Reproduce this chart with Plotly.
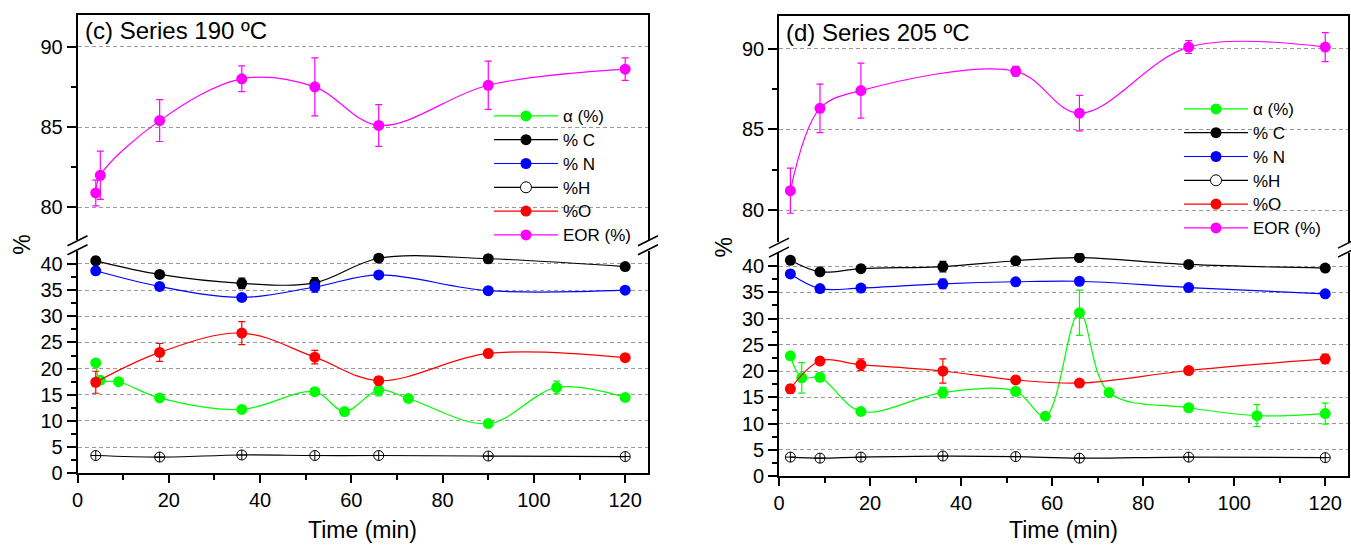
import plotly.graph_objects as go

W, H = 1351, 547
FONT = "Liberation Sans, Arial, sans-serif"

# ---------------- Data: Series 190 ºC ----------------
t190_eor = [4, 5, 18, 36, 52, 66, 90, 120]
eor190 = [80.9, 82.0, 85.4, 88.0, 87.5, 85.1, 87.6, 88.6]
eor190_err = [0.8, 1.5, 1.3, 0.8, 1.8, 1.3, 1.5, 0.7]

t190 = [4, 18, 36, 52, 66, 90, 120]
c190 = [40.6, 38.0, 36.3, 36.4, 41.1, 41.0, 39.5]
c190_err = [0.7, 0.4, 1.0, 1.0, 0.3, 0.3, 0.3]
n190 = [38.7, 35.7, 33.6, 35.6, 37.9, 34.9, 35.0]
n190_err = [0.6, 0.6, 0.5, 1.0, 0.3, 0.3, 0.3]
h190 = [3.4, 3.1, 3.5, 3.4, 3.4, 3.3, 3.2]
o190 = [17.4, 23.1, 26.8, 22.2, 17.7, 22.9, 22.1]
o190_err = [2.1, 1.7, 2.2, 1.3, 0.8, 0.8, 0.3]

t190_a = [4, 5, 9, 18, 36, 52, 58.5, 66, 72.5, 90, 105, 120]
a190 = [21.1, 17.8, 17.5, 14.4, 12.2, 15.6, 11.8, 15.9, 14.3, 9.5, 16.4, 14.5]
a190_err = [0, 0.3, 0, 0, 0, 0, 0, 1.1, 0.6, 0.6, 1.2, 0]

# ---------------- Data: Series 205 ºC ----------------
t205_eor = [2.5, 9, 18, 52, 66, 90, 120]
eor205 = [81.2, 86.3, 87.4, 88.6, 86.0, 90.1, 90.1]
eor205_err = [1.4, 1.5, 1.7, 0.3, 1.1, 0.4, 0.9]

t205 = [2.5, 9, 18, 36, 52, 66, 90, 120]
c205 = [41.1, 38.9, 39.5, 39.9, 41.0, 41.6, 40.3, 39.6]
c205_err = [0.3, 0.3, 0.3, 1.0, 0.3, 0.3, 0.3, 0.3]
n205 = [38.5, 35.7, 35.8, 36.6, 37.0, 37.1, 35.9, 34.7]
n205_err = [0.3, 0.3, 0.3, 0.9, 0.3, 0.3, 0.3, 0.3]
h205 = [3.6, 3.4, 3.6, 3.8, 3.7, 3.4, 3.6, 3.5]
o205 = [16.6, 21.9, 21.2, 20.0, 18.3, 17.7, 20.1, 22.3]
o205_err = [0.8, 0.5, 1.1, 2.3, 0.3, 0.3, 0.3, 0.9]

t205_a = [2.5, 5, 9, 18, 36, 52, 58.5, 66, 72.5, 90, 105, 120]
a205 = [22.9, 18.7, 18.8, 12.3, 15.9, 16.1, 11.4, 31.1, 15.9, 13.0, 11.5, 11.9]
a205_err = [0, 2.9, 0.8, 0, 1.0, 0.8, 0, 4.3, 0, 0, 2.1, 2.0]

series_names = ["α (%)", "% C", "% N", "%H", "%O", "EOR (%)"]
colors = ["#00FF00", "#000000", "#0000FF", "#000000", "#FF0000", "#FF00FF"]
panel_titles = ["(c) Series 190 ºC", "(d) Series 205 ºC"]
x_ticks = [0, 20, 40, 60, 80, 100, 120]
low_ticks = [0, 5, 10, 15, 20, 25, 30, 35, 40]
up_ticks = [80, 85, 90]


def px(x):
    return x / W


def py(y):
    return 1 - y / H


def legend_label(s):
    return "<span style='font-size:17px'>" + s + "</span>"


fig = go.Figure()

panels = [
    dict(t_a=t190_a, a=a190, a_err=a190_err, t=t190, c=c190, c_err=c190_err,
         n=n190, n_err=n190_err, h=h190, o=o190, o_err=o190_err,
         t_e=t190_eor, e=eor190, e_err=eor190_err),
    dict(t_a=t205_a, a=a205, a_err=a205_err, t=t205, c=c205, c_err=c205_err,
         n=n205, n_err=n205_err, h=h205, o=o205, o_err=o205_err,
         t_e=t205_eor, e=eor205, e_err=eor205_err),
]

ax_ids = [("x", "y", "x2", "y2"), ("x3", "y3", "x4", "y4")]
legends = ["legend", "legend2"]


def add_series(x, y, err, color, name, xa, ya, leg, symbol="circle", size=11,
               showlegend=True):
    mk = dict(symbol=symbol, size=size, color=color,
              line=dict(width=1 if symbol != "circle" else 0, color=color))
    fig.add_trace(go.Scatter(
        x=x, y=y, mode="lines+markers", name=legend_label(name),
        line=dict(color=color, width=1.2, shape="spline", smoothing=1.0),
        marker=mk,
        error_y=dict(type="data", array=err if err is not None else [0] * len(y),
                     color=color, thickness=1.2, width=3.5, visible=err is not None),
        xaxis=xa, yaxis=ya, legend=leg, showlegend=showlegend,
    ))


for i, p in enumerate(panels):
    xl, yl, xu, yu = ax_ids[i]
    leg = legends[i]
    add_series(p["t_a"], p["a"], p["a_err"], colors[0], series_names[0], xl, yl, leg)
    add_series(p["t"], p["c"], p["c_err"], colors[1], series_names[1], xl, yl, leg)
    add_series(p["t"], p["n"], p["n_err"], colors[2], series_names[2], xl, yl, leg)
    add_series(p["t"], p["h"], None, colors[3], series_names[3], xl, yl, leg,
               symbol="circle-cross-open", size=10, showlegend=False)
    # legend entry for %H (plain open circle, as in the original legend)
    fig.add_trace(go.Scatter(
        x=[None], y=[None], mode="lines+markers", name=legend_label(series_names[3]),
        line=dict(color="#000000", width=1.2),
        marker=dict(symbol="circle", size=11, color="white", line=dict(color="black", width=1)),
        xaxis=xl, yaxis=yl, legend=leg, showlegend=True))
    add_series(p["t"], p["o"], p["o_err"], colors[4], series_names[4], xl, yl, leg)
    add_series(p["t_e"], p["e"], p["e_err"], colors[5], series_names[5], xu, yu, leg)

geom = [
    dict(x0=77.5, x1=648.0, up=(14.5, 239.6), low=(250.9, 473.3), title_y=31),
    dict(x0=779.0, x1=1348.0, up=(16.4, 242.3), low=(252.9, 476.0), title_y=32),
]

axis_common = dict(showline=True, linecolor="black", linewidth=1.6, zeroline=False,
                   automargin=False,
                   tickfont=dict(family=FONT, size=20, color="black"),
                   tickcolor="black", tickwidth=1.6)

layout = dict(
    template="none",
    width=W, height=H, autosize=False,
    margin=dict(l=0, r=0, t=0, b=0, pad=0, autoexpand=False),
    paper_bgcolor="white", plot_bgcolor="white",
    font=dict(family=FONT, color="black"),
)

shapes = []
annotations = []
for i, g in enumerate(geom):
    xl, yl, xu, yu = ax_ids[i]
    n_xl = "xaxis" if xl == "x" else "xaxis" + xl[1:]
    n_yl = "yaxis" if yl == "y" else "yaxis" + yl[1:]
    n_xu = "xaxis" + xu[1:]
    n_yu = "yaxis" + yu[1:]
    xdom = [px(g["x0"]), px(g["x1"])]
    layout[n_xl] = dict(axis_common, domain=xdom, anchor=yl, range=[0, 125],
                        tickmode="array", tickvals=x_ticks, ticks="outside", ticklen=8,
                        minor=dict(ticks="outside", ticklen=5, tickvals=[10, 30, 50, 70, 90, 110],
                                   tickcolor="black", tickwidth=1.6, showgrid=False),
                        showgrid=False, mirror=False)
    layout[n_yl] = dict(axis_common, domain=[py(g["low"][1]), py(g["low"][0])], anchor=xl,
                        range=[0, 42.5], tickmode="array", tickvals=low_ticks,
                        ticks="outside", ticklen=9,
                        minor=dict(ticks="outside", ticklen=5,
                                   tickvals=[2.5, 7.5, 12.5, 17.5, 22.5, 27.5, 32.5, 37.5],
                                   tickcolor="black", tickwidth=1.6, showgrid=False),
                        showgrid=True, gridcolor="#9a9a9a", gridwidth=1, griddash="4px,3px",
                        mirror=True)
    layout[n_xu] = dict(axis_common, domain=xdom, anchor=yu, range=[0, 125], matches=xl,
                        side="top", ticks="", showticklabels=False, showgrid=False, mirror=False)
    layout[n_yu] = dict(axis_common, domain=[py(g["up"][1]), py(g["up"][0])], anchor=xu,
                        range=[78, 92], tickmode="array", tickvals=up_ticks,
                        ticks="outside", ticklen=9,
                        minor=dict(ticks="outside", ticklen=5, tickvals=[82.5, 87.5],
                                   tickcolor="black", tickwidth=1.6, showgrid=False),
                        showgrid=True, gridcolor="#9a9a9a", gridwidth=1, griddash="4px,3px",
                        mirror=True)

    # axis break marks "//" on both vertical edges
    cy = (g["up"][1] + g["low"][0]) / 2
    for cx in (g["x0"], g["x1"]):
        for d in (-4.5, 4.5):
            shapes.append(dict(type="line", xref="paper", yref="paper",
                               x0=px(cx - 10), y0=py(cy + d + 5),
                               x1=px(cx + 10), y1=py(cy + d - 5),
                               line=dict(color="black", width=1.6)))

    annotations.append(dict(text=panel_titles[i], xref="paper", yref="paper",
                            x=px(g["x0"] + 5), y=py(g["title_y"]),
                            xanchor="left", yanchor="middle", showarrow=False,
                            font=dict(family=FONT, size=24, color="black")))
    annotations.append(dict(text="Time (min)", xref="paper", yref="paper",
                            x=px((g["x0"] + g["x1"]) / 2), y=py(530),
                            xanchor="center", yanchor="middle", showarrow=False,
                            font=dict(family=FONT, size=23, color="black")))
    annotations.append(dict(text="%", xref="paper", yref="paper",
                            x=px(g["x0"] - 55), y=py(cy),
                            xanchor="center", yanchor="middle", showarrow=False, textangle=-90,
                            font=dict(family=FONT, size=23, color="black")))

layout["shapes"] = shapes
layout["annotations"] = annotations

leg_common = dict(xanchor="left", yanchor="top", bgcolor="rgba(0,0,0,0)",
                  font=dict(family=FONT, size=16, color="black"),
                  tracegroupgap=0, itemwidth=64, borderwidth=0)
layout["legend"] = dict(leg_common, x=px(489), y=py(99))
layout["legend2"] = dict(leg_common, x=px(1179), y=py(92))

fig.update_layout(**layout)
# remove the default 8px page margin so the figure sits at the window's top-left corner
fig.write_html("out.html", config={"displayModeBar": False},
               post_script="document.body.style.margin='0px';")
